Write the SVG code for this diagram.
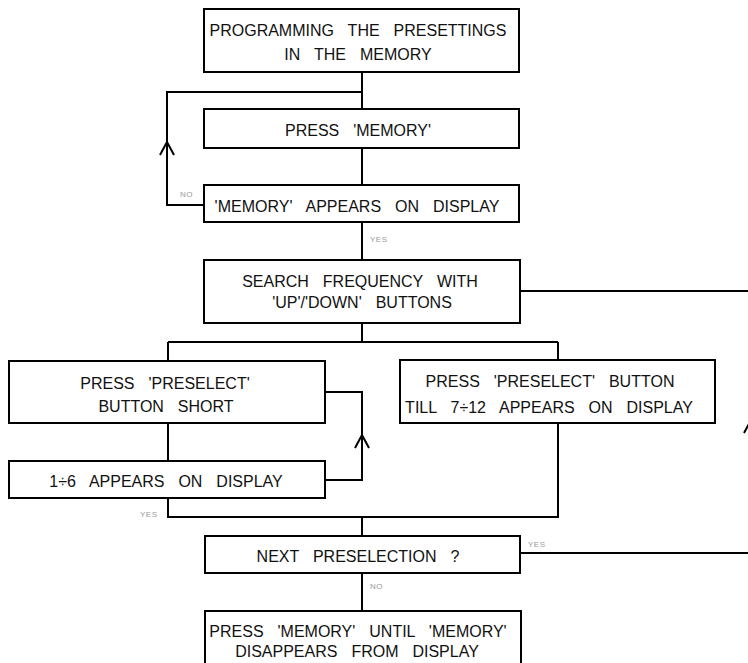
<svg xmlns="http://www.w3.org/2000/svg" width="748" height="663" viewBox="0 0 748 663">
<defs>
<style>
.box{fill:#fff;stroke:#000;stroke-width:2}
.t{font-family:"Liberation Sans",Arial,sans-serif;font-size:16px;word-spacing:9.5px;text-anchor:middle;fill:#111}
.lbl{font-family:"Liberation Sans",Arial,sans-serif;font-size:8px;fill:#999;letter-spacing:0.5px}
.c{fill:none;stroke:#000;stroke-width:2}
</style>
<marker id="ah" markerWidth="16" markerHeight="16" viewBox="-8 -1 16 16" refX="0" refY="0" orient="0" markerUnits="userSpaceOnUse">
<polyline points="-7,13 0,0 7,13" fill="none" stroke="#000" stroke-width="2"/>
</marker>
</defs>
<rect width="748" height="663" fill="#fff"/>
<g id="connectors">
<path class="c" d="M362,72 V109"/>
<path class="c" d="M204,205 H167 V92 H362"/>
<path class="c" d="M167,205 V142" marker-end="url(#ah)"/>
<path class="c" d="M362,148 V185"/>
<path class="c" d="M362,222 V260"/>
<path class="c" d="M362,323 V342 M168,342 H558 M168,342 V361 M558,342 V360"/>
<path class="c" d="M168,423 V461"/>
<path class="c" d="M325,480 H362 V392 H325"/>
<path class="c" d="M362,480 V435" marker-end="url(#ah)"/>
<path class="c" d="M168,498 V517 H558 V423"/>
<path class="c" d="M362,517 V536"/>
<path class="c" d="M362,573 V611"/>
<path class="c" d="M520,553 H751 V291 H520"/>
<path class="c" d="M751,553 V420" marker-end="url(#ah)"/>
<text class="lbl" x="180" y="197">NO</text>
<text class="lbl" x="370" y="242">YES</text>
<text class="lbl" x="140" y="517">YES</text>
<text class="lbl" x="528" y="547">YES</text>
<text class="lbl" x="370" y="589">NO</text>
</g>
<g id="n1"><rect class="box" x="204" y="9" width="315" height="63"/>
<text class="t" x="358" y="35.5">PROGRAMMING THE PRESETTINGS</text>
<text class="t" x="358" y="60">IN THE MEMORY</text></g>
<g id="n2"><rect class="box" x="204" y="109" width="315" height="39"/>
<text class="t" x="358" y="136">PRESS 'MEMORY'</text></g>
<g id="n3"><rect class="box" x="204" y="185" width="315" height="37"/>
<text class="t" x="357" y="212">'MEMORY' APPEARS ON DISPLAY</text></g>
<g id="n4"><rect class="box" x="204" y="260" width="316" height="63"/>
<text class="t" x="360" y="286.5">SEARCH FREQUENCY WITH</text>
<text class="t" x="362" y="308">'UP'/'DOWN' BUTTONS</text></g>
<g id="n5"><rect class="box" x="9" y="361" width="316" height="62"/>
<text class="t" x="165" y="389">PRESS 'PRESELECT'</text>
<text class="t" x="166" y="411.5">BUTTON SHORT</text></g>
<g id="n6"><rect class="box" x="400" y="360" width="315" height="63"/>
<text class="t" x="550" y="386.5">PRESS 'PRESELECT' BUTTON</text>
<text class="t" x="549" y="413">TILL 7÷12 APPEARS ON DISPLAY</text></g>
<g id="n7"><rect class="box" x="9" y="461" width="316" height="37"/>
<text class="t" x="166" y="486.5">1÷6 APPEARS ON DISPLAY</text></g>
<g id="n8"><rect class="box" x="205" y="536" width="315" height="37"/>
<text class="t" x="358" y="561.5">NEXT PRESELECTION ?</text></g>
<g id="n9"><rect class="box" x="205" y="611" width="316" height="70"/>
<text class="t" x="358" y="636.5">PRESS 'MEMORY' UNTIL 'MEMORY'</text>
<text class="t" x="357" y="656.5">DISAPPEARS FROM DISPLAY</text></g>
</svg>
